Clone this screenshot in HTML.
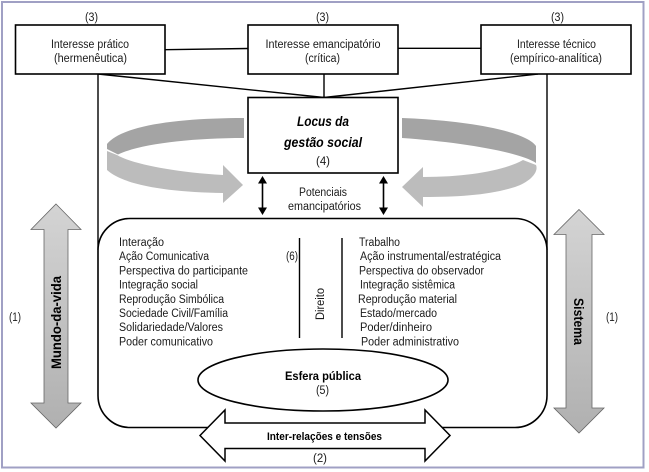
<!DOCTYPE html>
<html>
<head>
<meta charset="utf-8">
<style>
html,body{margin:0;padding:0;background:#fff;width:649px;height:472px;overflow:hidden}
svg{display:block}
text{font-family:"Liberation Sans",sans-serif;font-size:11.5px;fill:#1a1a1a}
.b{font-weight:bold;fill:#000}
</style>
</head>
<body>
<svg width="649" height="472" viewBox="0 0 649 472" xmlns="http://www.w3.org/2000/svg">
<defs>
<linearGradient id="g1" x1="0" y1="0" x2="0" y2="1"><stop offset="0" stop-color="#d4d4d4"/><stop offset="1" stop-color="#b0b0b0"/></linearGradient>
</defs>
<rect x="2" y="2" width="641.5" height="465.5" fill="#fff" stroke="#a0a0c4" stroke-width="2"/>

<g fill="none" stroke="#000" stroke-width="1.4">
<path d="M165 49.7L248 48.5M398 48.3H481"/>
<path d="M98 74L324 97.5L538 74M324 74V97.5"/>
<path d="M98 74V250M547 74V250"/>
</g>

<g fill="#fff" stroke="#000" stroke-width="1.6">
<rect x="15.5" y="25" width="149.5" height="49"/>
<rect x="248" y="25" width="150" height="49"/>
<rect x="481" y="25" width="150" height="49"/>
<rect x="248" y="97.5" width="150" height="75.5"/>
<rect x="98" y="218.5" width="449" height="209" rx="32" ry="32"/>
</g>

<!-- circular arrows -->
<path d="M244 118C180 118 122 125 107 144L107 149L118 154.500C140 144 190 138 244 138Z" fill="#a4a4a4"/>
<path d="M107 151L117 155C130 163 170 172 223 175L223 165L243 185L223 203L223 193C170 192 125 186 107 170Z" fill="#bcbcbc"/>
<path d="M402 118C460 120 525 130 536 146L536 163C520 152 460 142 402 138Z" fill="#a4a4a4"/>
<path d="M523 160L536 165C539 172 530 182 515 187C490 195 460 197 423 197L423 207L402 187L423 167L423 177C470 177 505 170 523 160Z" fill="#bcbcbc"/>

<!-- double arrows -->
<g fill="none" stroke="#000" stroke-width="1.6"><path d="M262.500 180V211M383.500 180V211"/></g>
<g fill="#000">
<path d="M262.500 176L258 183.500H267Z"/><path d="M262.500 215L258 207.500H267Z"/>
<path d="M383.500 176L379 183.500H388Z"/><path d="M383.500 215L379 207.500H388Z"/>
</g>

<!-- side arrows -->
<path d="M56 204L81 229.500H68V403H81L56 428L31 403H44V229.500H31Z" fill="url(#g1)" stroke="#666" stroke-width="0.8"/>
<path d="M579 209.500L604 234.500H592V408H604L579 433L554 408H566V234.500H554Z" fill="url(#g1)" stroke="#666" stroke-width="0.8"/>

<ellipse cx="323" cy="380" rx="125" ry="31" fill="#fff" stroke="#000" stroke-width="1.6"/>

<path d="M200 435.500L225 410V423H425V410L450 435.500L425 461V448.500H225V461Z" fill="#fff" stroke="#000" stroke-width="1.5"/>

<g fill="none" stroke="#000" stroke-width="1.4"><path d="M299.500 238V338M342 238V338"/></g>

<!-- labels -->
<text x="85" y="21" textLength="13" lengthAdjust="spacingAndGlyphs">(3)</text>
<text x="316" y="21" textLength="13" lengthAdjust="spacingAndGlyphs">(3)</text>
<text x="551" y="21" textLength="13" lengthAdjust="spacingAndGlyphs">(3)</text>

<text x="51" y="48" textLength="78" lengthAdjust="spacingAndGlyphs">Interesse prático</text>
<text x="54" y="62" textLength="73" lengthAdjust="spacingAndGlyphs">(hermenêutica)</text>
<text x="265.500" y="48" textLength="115" lengthAdjust="spacingAndGlyphs">Interesse emancipatório</text>
<text x="305" y="62" textLength="35" lengthAdjust="spacingAndGlyphs">(crítica)</text>
<text x="517" y="48" textLength="79" lengthAdjust="spacingAndGlyphs">Interesse técnico</text>
<text x="510" y="62" textLength="92" lengthAdjust="spacingAndGlyphs">(empírico-analítica)</text>

<text x="297" y="126" class="b" style="font-style:italic;font-size:14px" textLength="52" lengthAdjust="spacingAndGlyphs">Locus da</text>
<text x="284" y="147" class="b" style="font-style:italic;font-size:14px" textLength="78" lengthAdjust="spacingAndGlyphs">gestão social</text>
<text x="316" y="165" textLength="14" lengthAdjust="spacingAndGlyphs">(4)</text>

<text x="299" y="196" textLength="48" lengthAdjust="spacingAndGlyphs">Potenciais</text>
<text x="288" y="210" textLength="73" lengthAdjust="spacingAndGlyphs">emancipatórios</text>

<text x="119" y="246" textLength="45" lengthAdjust="spacingAndGlyphs">Interação</text>
<text x="119" y="260" textLength="90" lengthAdjust="spacingAndGlyphs">Ação Comunicativa</text>
<text x="119" y="274.500" textLength="129" lengthAdjust="spacingAndGlyphs">Perspectiva do participante</text>
<text x="119" y="288.500" textLength="79" lengthAdjust="spacingAndGlyphs">Integração social</text>
<text x="119" y="303" textLength="105" lengthAdjust="spacingAndGlyphs">Reprodução Simbólica</text>
<text x="119" y="317" textLength="109" lengthAdjust="spacingAndGlyphs">Sociedade Civil/Família</text>
<text x="119" y="331" textLength="104" lengthAdjust="spacingAndGlyphs">Solidariedade/Valores</text>
<text x="119" y="345.500" textLength="94" lengthAdjust="spacingAndGlyphs">Poder comunicativo</text>

<text x="359" y="246" textLength="41" lengthAdjust="spacingAndGlyphs">Trabalho</text>
<text x="360" y="260" textLength="141" lengthAdjust="spacingAndGlyphs">Ação instrumental/estratégica</text>
<text x="359" y="274.500" textLength="125" lengthAdjust="spacingAndGlyphs">Perspectiva do observador</text>
<text x="360" y="288.500" textLength="95" lengthAdjust="spacingAndGlyphs">Integração sistêmica</text>
<text x="358" y="303" textLength="99" lengthAdjust="spacingAndGlyphs">Reprodução material</text>
<text x="360" y="317" textLength="77" lengthAdjust="spacingAndGlyphs">Estado/mercado</text>
<text x="360" y="331" textLength="72" lengthAdjust="spacingAndGlyphs">Poder/dinheiro</text>
<text x="361" y="345.500" textLength="98" lengthAdjust="spacingAndGlyphs">Poder administrativo</text>

<text x="286" y="260" textLength="12" lengthAdjust="spacingAndGlyphs">(6)</text>
<text transform="translate(324 320) rotate(-90)" textLength="32" lengthAdjust="spacingAndGlyphs">Direito</text>

<text x="285" y="380" class="b" style="font-size:12px" textLength="76" lengthAdjust="spacingAndGlyphs">Esfera pública</text>
<text x="316" y="394" textLength="13" lengthAdjust="spacingAndGlyphs">(5)</text>
<text x="267" y="440" class="b" style="font-size:11px" textLength="115" lengthAdjust="spacingAndGlyphs">Inter-relações e tensões</text>
<text x="313" y="462" textLength="14" lengthAdjust="spacingAndGlyphs">(2)</text>

<text x="9" y="321" textLength="12" lengthAdjust="spacingAndGlyphs">(1)</text>
<text x="606" y="321" textLength="12" lengthAdjust="spacingAndGlyphs">(1)</text>

<text transform="translate(61 369) rotate(-90)" class="b" style="font-size:13.5px" textLength="93" lengthAdjust="spacingAndGlyphs">Mundo-da-vida</text>
<text transform="translate(574 298) rotate(90)" class="b" style="font-size:13.5px" textLength="47" lengthAdjust="spacingAndGlyphs">Sistema</text>
</svg>
</body>
</html>
